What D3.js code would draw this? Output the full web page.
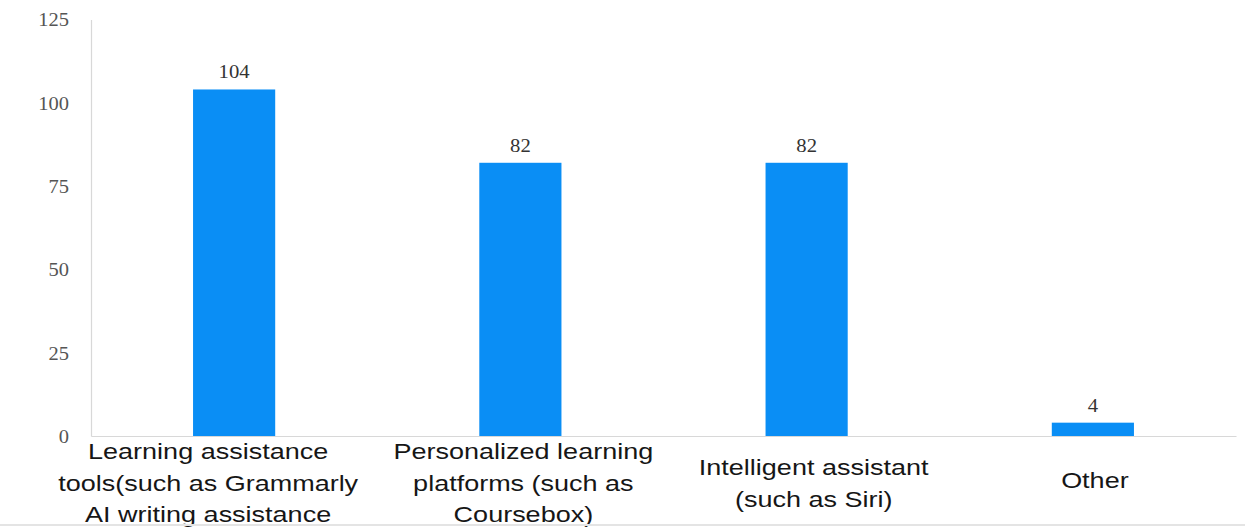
<!DOCTYPE html>
<html>
<head>
<meta charset="utf-8">
<script src="https://cdn.jsdelivr.net/npm/d3@7"></script>
<style>
  html, body { margin: 0; padding: 0; background: #fff; }
  svg { display: block; }
</style>
</head>
<body>
<svg id="chart" width="1245" height="527"></svg>
<script>
// Category labels, one entry per line of the wrapped label
const categories = [
  ["Learning assistance", "tools(such as Grammarly", "AI writing assistance"],
  ["Personalized learning", "platforms (such as", "Coursebox)"],
  ["Intelligent assistant", "(such as Siri)"],
  ["Other"]
];
const values = [104, 82, 82, 4];
const yTicks = [0, 25, 50, 75, 100, 125];

const svg = d3.select("#chart");
const W = 1245, H = 527;
const plotLeft = 91, plotRight = 1236, plotTop = 19.5, plotBottom = 436;
const stretch = 1.2; // wide letterforms

const ids = categories.map((c, i) => i);
const x = d3.scaleBand().domain(ids).range([plotLeft, plotRight]).paddingInner(0.713).paddingOuter(0.3565);
const y = d3.scaleLinear().domain([0, 125]).range([plotBottom, plotTop]);

// y axis
const yAxis = d3.axisLeft(y).tickValues(yTicks).tickSize(0).tickPadding(0).tickFormat(d3.format("d"));
const gy = svg.append("g").attr("transform", `translate(${plotLeft},0)`).call(yAxis);
gy.select(".domain").attr("stroke", "#d8d8d8").attr("stroke-width", 1.2);
gy.selectAll(".tick text")
  .attr("x", 0)
  .attr("dy", "0.34em")
  .attr("transform", "translate(-22,0) scale(1.08,1)")
  .attr("font-family", "'Liberation Serif', 'Times New Roman', serif")
  .attr("font-size", 19)
  .attr("fill", "#555");

// x axis baseline
const xAxis = d3.axisBottom(x).tickSize(0).tickFormat("");
const gx = svg.append("g").attr("transform", `translate(0,${plotBottom})`).call(xAxis);
gx.select(".domain").attr("stroke", "#d8d8d8").attr("stroke-width", 1.2);

// bars
svg.append("g").selectAll("rect").data(values).join("rect")
  .attr("x", (d, i) => x(i))
  .attr("y", d => y(d))
  .attr("width", x.bandwidth())
  .attr("height", d => y(0) - y(d))
  .attr("fill", "#0a8ef5");

// value labels
svg.append("g").selectAll("text").data(values).join("text")
  .attr("transform", (d, i) => `translate(${x(i) + x.bandwidth() / 2},${y(d) - 11}) scale(1.15,1)`)
  .attr("text-anchor", "middle")
  .attr("font-family", "'Liberation Serif', 'Times New Roman', serif")
  .attr("font-size", 18)
  .attr("fill", "#333")
  .text(d => d);

// category labels (wrapped, each line centred under its bar)
const lineGap = 31.5;
const firstBaseline = [459, 459, 475, 488];
const labelShift = [-26, 3, 7, 2];
const lab = svg.append("g").selectAll("g").data(categories).join("g");
lab.each(function(lines, i) {
  const cx = x(i) + x.bandwidth() / 2 + labelShift[i];
  d3.select(this).selectAll("text").data(lines).join("text")
    .attr("transform", (l, j) => `translate(${cx},${firstBaseline[i] + j * lineGap}) scale(${stretch},1)`)
    .attr("text-anchor", "middle")
    .attr("font-family", "'Liberation Sans', Arial, sans-serif")
    .attr("font-size", 22.5)
    .attr("fill", "#161616")
    .text(l => l);
});

// bottom edge line
svg.append("line")
  .attr("x1", 0).attr("x2", W).attr("y1", 525).attr("y2", 525)
  .attr("stroke", "#e4e4e4").attr("stroke-width", 2);
</script>
</body>
</html>
